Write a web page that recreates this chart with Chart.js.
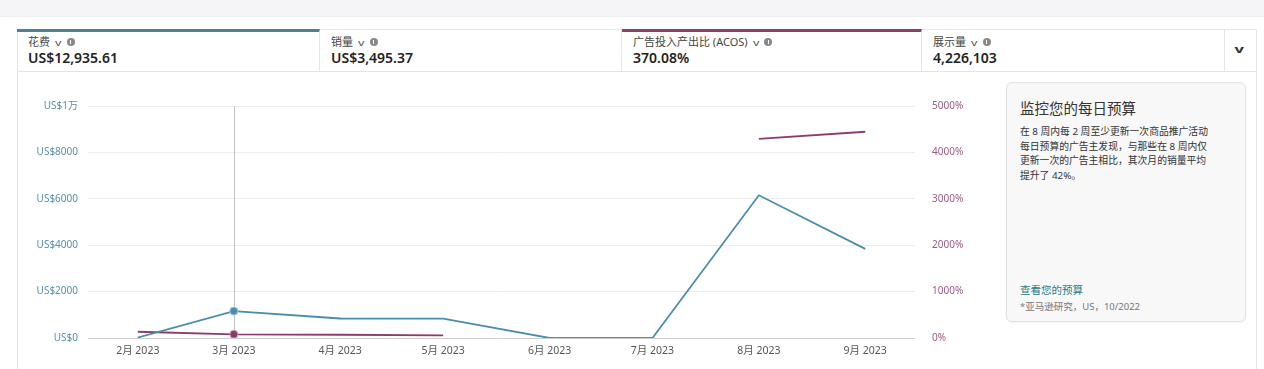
<!DOCTYPE html>
<html>
<head>
<meta charset="utf-8">
<script src="https://cdn.jsdelivr.net/npm/chart.js@4"></script>
<style>
  html, body { margin: 0; padding: 0; }
  body {
    width: 1264px; height: 369px; overflow: hidden; position: relative;
    background: #fff;
    font-family: "Noto Sans", "Noto Sans CJK SC", sans-serif;
  }
  .topband { position: absolute; left: 0; top: 0; width: 1264px; height: 16px; background: #f5f5f7; border-bottom: 1px solid #efeff1; }
  .card { position: absolute; left: 17px; top: 29px; width: 1240px; height: 360px; border: 1px solid #e6e6e6; border-bottom: none; box-sizing: border-box; }
  .tabs { position: absolute; left: 17px; top: 29px; height: 43px; width: 1240px; border-bottom: 1px solid #e3e3e3; box-sizing: border-box; }
  .tab { position: absolute; top: 0; height: 42px; box-sizing: border-box; border-right: 1px solid #e6e6e6; border-top: 1px solid #e6e6e6; }
  .tab.blue { border-top: 3px solid #4b7f9a; }
  .tab.purple { border-top: 3px solid #8a3f6c; }
  .tab .lbl { position: absolute; left: 11px; top: 3px; font-size: 11px; color: #444; white-space: nowrap; }
  .tab.blue .lbl, .tab.purple .lbl { top: 1px; }
  .tab .val { position: absolute; left: 11px; top: 18px; font-size: 14px; font-weight: 600; color: #222; white-space: nowrap; }
  .tab.blue .val, .tab.purple .val { top: 16px; }
  .chev { display: inline-block; font-size: 9px; color: #555; margin-left: 6px; transform: scaleX(1.4); }
  .info { display: inline-block; width: 8px; height: 8px; border-radius: 50%; background: #888; margin-left: 6px; vertical-align: 0px; position: relative; }
  .info::after { content: ""; position: absolute; left: 3.5px; top: 2px; width: 1px; height: 4px; background: #fff; }
  .more { position: absolute; left: 1236px; top: 41px; font-size: 11px; color: #333; transform: scaleX(1.5); font-weight: 700; }
  .chartbox { position: absolute; left: 20px; top: 80px; width: 980px; height: 289px; }
  .panel { position: absolute; left: 1006px; top: 82px; width: 240px; height: 240px; box-sizing: border-box; background: #f8f8f9; border: 1px solid #e2e2e4; border-radius: 6px; box-shadow: 0 1px 2px rgba(0,0,0,0.06); }
  .panel h3 { position: absolute; left: 13px; top: 14px; margin: 0; font-size: 14.5px; font-weight: 400; color: #333; white-space: nowrap; }
  .panel .body { position: absolute; left: 13px; top: 42px; font-size: 9.8px; line-height: 14.5px; color: #333; white-space: nowrap; }
  .panel .link { position: absolute; left: 13px; top: 199px; font-size: 10.5px; color: #2b7a86; white-space: nowrap; }
  .panel .note { position: absolute; left: 13px; top: 216px; font-size: 9.5px; color: #777; white-space: nowrap; }
</style>
</head>
<body>
<div class="topband"></div>
<div class="card"></div>
<div class="tabs">
  <div class="tab blue" style="left:0;width:303px;"><div class="lbl">花费<span class="chev">v</span><span class="info"></span></div><div class="val">US$12,935.61</div></div>
  <div class="tab" style="left:303px;width:302px;"><div class="lbl">销量<span class="chev">v</span><span class="info"></span></div><div class="val">US$3,495.37</div></div>
  <div class="tab purple" style="left:605px;width:300px;"><div class="lbl">广告投入产出比 (ACOS)<span class="chev">v</span><span class="info"></span></div><div class="val">370.08%</div></div>
  <div class="tab" style="left:905px;width:303px;"><div class="lbl">展示量<span class="chev">v</span><span class="info"></span></div><div class="val">4,226,103</div></div>
</div>
<div class="more">v</div>

<div class="chartbox"><canvas id="trendChart"></canvas></div>

<div class="panel">
  <h3>监控您的每日预算</h3>
  <div class="body">在 8 周内每 2 周至少更新一次商品推广活动<br>每日预算的广告主发现，与那些在 8 周内仅<br>更新一次的广告主相比，其次月的销量平均<br>提升了 42%。</div>
  <div class="link">查看您的预算</div>
  <div class="note">*亚马逊研究，US，10/2022</div>
</div>

<script>
// months shown on the x axis (first day of each month, 2023)
const monthLabels = ['2月 2023', '3月 2023', '4月 2023', '5月 2023', '6月 2023', '7月 2023', '8月 2023', '9月 2023'];
const monthIndex = [1, 2, 3, 4, 5, 6, 7, 8];
// 花费 (US$)
const spendValues = [20, 1160, 840, 835, 0, 0, 6150, 3840];
// ACOS (%)
const acosValues = [135, 80, 70, 58, null, null, 4290, 4445];
const leftTicks = [0, 2000, 4000, 6000, 8000, 10000];
const rightTicks = [0, 1000, 2000, 3000, 4000, 5000];
const hoverIndex = 1;

const DAY = 86400000;
const base = Date.UTC(2023, 1, 1);
const dayOffsets = monthIndex.map(m => (Date.UTC(2023, m, 1) - base) / DAY);

const blue = '#4a8cab';
const purple = '#8b3c6d';

const hoverLine = {
    id: 'hoverLine',
    beforeDatasetsDraw(chart) {
        const { ctx, chartArea, scales } = chart;
        const x = Math.round(scales.x.getPixelForValue(dayOffsets[hoverIndex])) + 0.5;
        ctx.save();
        ctx.strokeStyle = '#c4c4c4';
        ctx.lineWidth = 1;
        ctx.beginPath();
        ctx.moveTo(x, chartArea.top);
        ctx.lineTo(x, chartArea.bottom);
        ctx.stroke();
        ctx.restore();
    }
};

const ctx = document.getElementById('trendChart').getContext('2d');
new Chart(ctx, {
    type: 'line',
    data: {
        datasets: [{
            label: '花费',
            data: dayOffsets.map((d, i) => ({ x: d, y: spendValues[i] })),
            borderColor: blue,
            backgroundColor: blue,
            borderWidth: 1.8,
            yAxisID: 'y',
            pointRadius: dayOffsets.map((d, i) => i === hoverIndex ? 4 : 0),
            pointBorderColor: '#9cc6d6',
            pointBorderWidth: 1,
            tension: 0
        }, {
            label: '广告投入产出比 (ACOS)',
            data: dayOffsets.map((d, i) => ({ x: d, y: acosValues[i] })),
            borderColor: purple,
            backgroundColor: purple,
            borderWidth: 1.8,
            yAxisID: 'y1',
            spanGaps: false,
            pointRadius: dayOffsets.map((d, i) => i === hoverIndex ? 4 : 0),
            pointBorderColor: '#c89ab5',
            pointBorderWidth: 1,
            tension: 0
        }]
    },
    options: {
        responsive: true,
        maintainAspectRatio: false,
        animation: false,
        layout: { padding: { top: 26, left: 0, right: 0, bottom: 0 } },
        plugins: {
            legend: { display: false },
            tooltip: { enabled: false }
        },
        scales: {
            x: {
                type: 'linear',
                min: -14.5,
                max: dayOffsets[dayOffsets.length - 1] + 14.5,
                grid: { display: false, drawTicks: false },
                border: { display: false },
                afterBuildTicks: axis => { axis.ticks = dayOffsets.map(v => ({ value: v })); },
                afterFit: axis => { axis.height = 31; },
                ticks: {
                    padding: 7,
                    color: '#555',
                    font: { size: 10.5, family: '"Noto Sans", "Noto Sans CJK SC", sans-serif' },
                    maxRotation: 0,
                    autoSkip: false,
                    callback: value => monthLabels[dayOffsets.indexOf(value)]
                }
            },
            y: {
                position: 'left',
                min: 0,
                max: 10000,
                afterBuildTicks: axis => { axis.ticks = leftTicks.map(v => ({ value: v })); },
                afterFit: axis => { axis.width = 68; },
                grid: {
                    drawTicks: false,
                    color: ctx => ctx.tick && ctx.tick.value === 0 ? '#cfcfcf' : '#ececec',
                    lineWidth: 1
                },
                border: { display: false },
                ticks: {
                    padding: 10,
                    color: '#5b8ea6',
                    font: { size: 10, family: '"Noto Sans", "Noto Sans CJK SC", sans-serif' },
                    callback: v => v === 10000 ? 'US$1万' : 'US$' + v
                }
            },
            y1: {
                position: 'right',
                min: 0,
                max: 5000,
                afterBuildTicks: axis => { axis.ticks = rightTicks.map(v => ({ value: v })); },
                afterFit: axis => { axis.width = 85; },
                grid: { display: false, drawTicks: false },
                border: { display: false },
                ticks: {
                    padding: 17,
                    color: '#9a5a86',
                    font: { size: 10, family: '"Noto Sans", "Noto Sans CJK SC", sans-serif' },
                    callback: v => v + '%'
                }
            }
        }
    },
    plugins: [hoverLine]
});
</script>
</body>
</html>
